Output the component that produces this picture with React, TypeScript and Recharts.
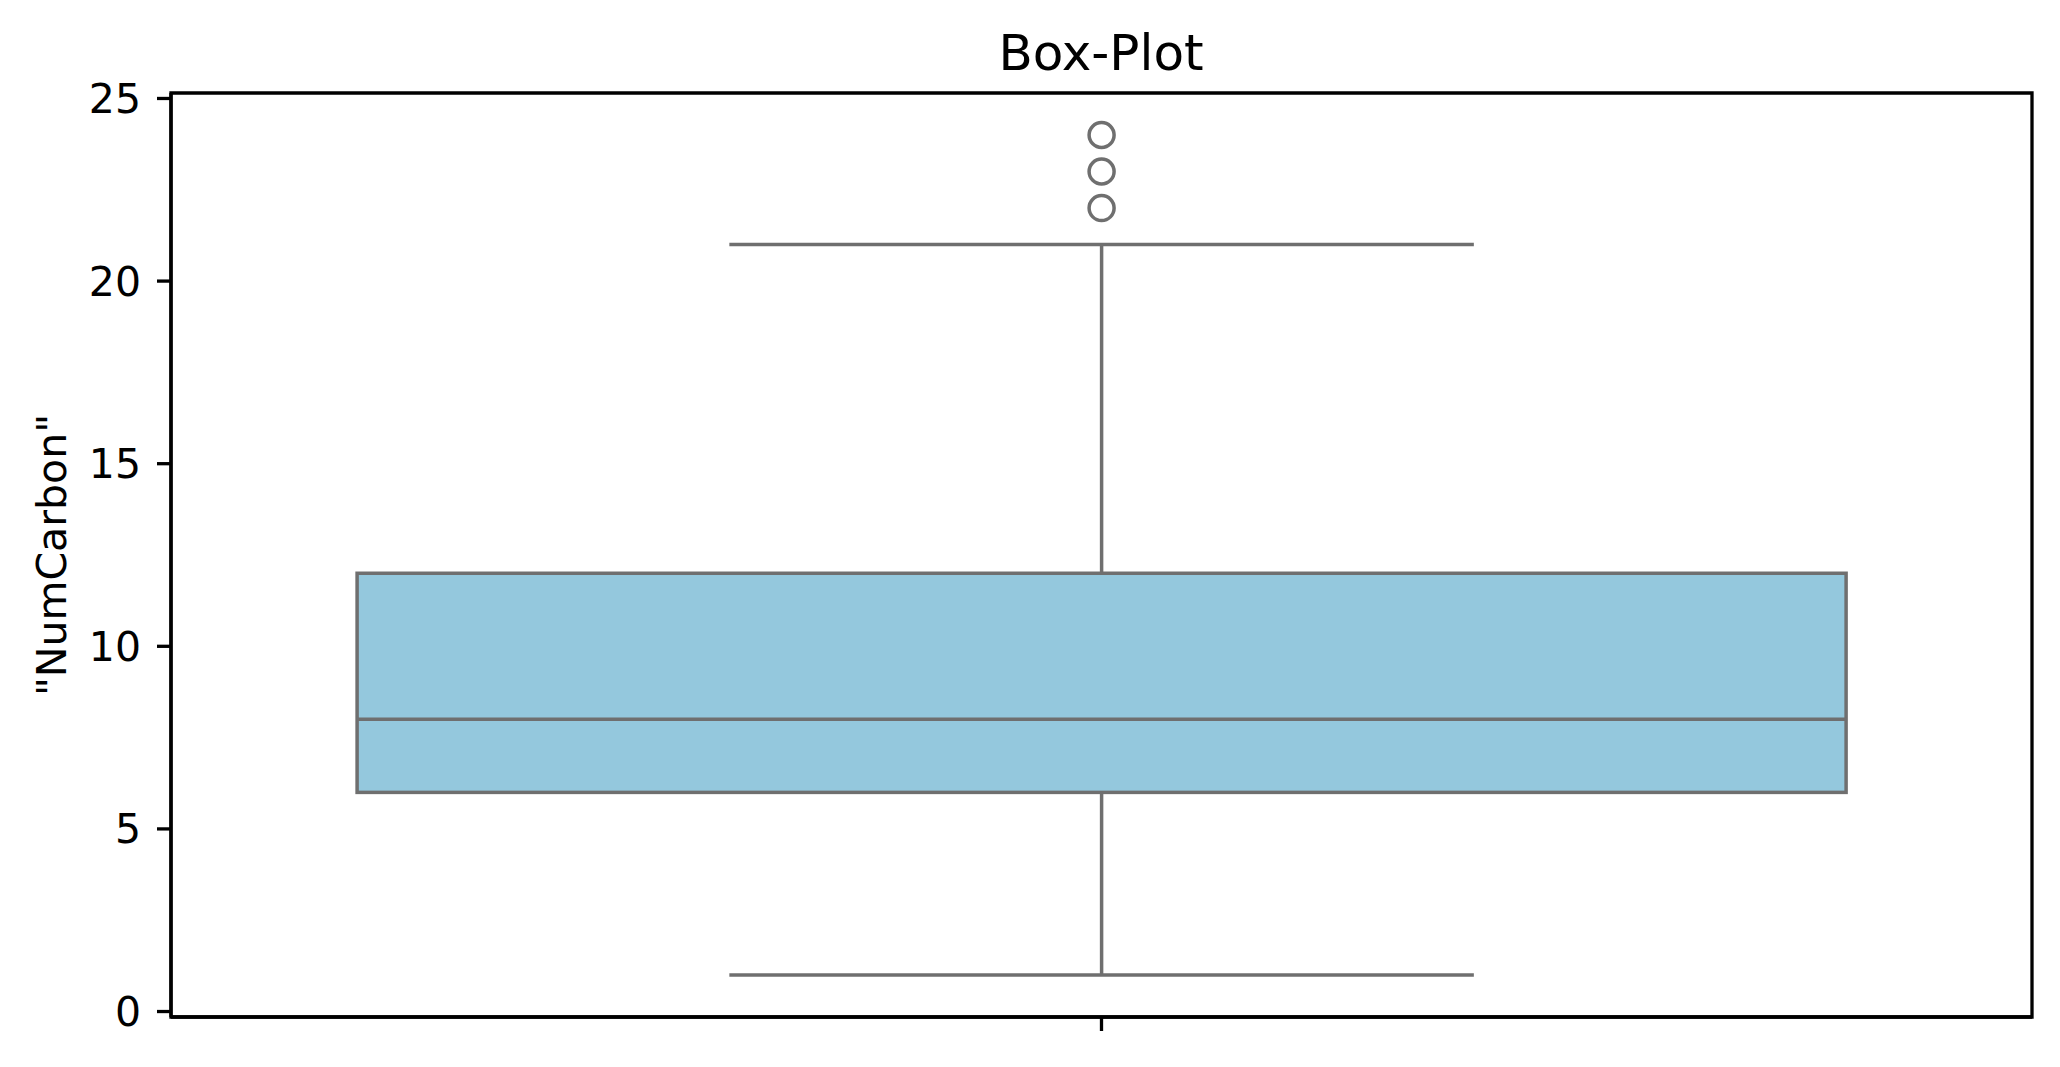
import React from 'react';
import { ComposedChart, Bar, XAxis, YAxis, ReferenceArea } from 'recharts';

// box-plot stats
const categories = ['NumCarbon'];
const whiskerLow = [1];
const q1Values = [6];
const medianValues = [8];
const q3Values = [12];
const whiskerHigh = [21];
const outlierValues = [[22, 23, 24]];
const yTicks = [0, 5, 10, 15, 20, 25];
const yDomain = [-0.15, 25.15];

const LINE = '#6f6f6f';
const FILL = '#94c8dd';
const FONT = '"DejaVu Sans", sans-serif';

const boxData = categories.map((name, i) => ({
  name,
  box: [q1Values[i], q3Values[i]],
  min: whiskerLow[i],
  q1: q1Values[i],
  median: medianValues[i],
  q3: q3Values[i],
  max: whiskerHigh[i],
  outliers: outlierValues[i],
}));

// draws box, median, whiskers, caps and fliers from the bar's own scaled rect
const BoxShape = (props: any) => {
  const { x, y, width, height, payload } = props;
  const top = Math.min(y, y + height);
  const h = Math.abs(height);
  const bottom = top + h;
  const ppu = h / (payload.q3 - payload.q1);
  const yOf = (v: number) => bottom - (v - payload.q1) * ppu;
  const cx = x + width / 2;
  const capHalf = width / 4;
  const sw = 3.5;
  return (
    <g>
      <line x1={cx} x2={cx} y1={yOf(payload.max)} y2={top} stroke={LINE} strokeWidth={sw} />
      <line x1={cx} x2={cx} y1={bottom} y2={yOf(payload.min)} stroke={LINE} strokeWidth={sw} />
      <rect x={x} y={top} width={width} height={h} fill={FILL} stroke={LINE} strokeWidth={sw} />
      <line x1={x} x2={x + width} y1={yOf(payload.median)} y2={yOf(payload.median)} stroke={LINE} strokeWidth={sw} />
      <line x1={cx - capHalf} x2={cx + capHalf} y1={yOf(payload.max)} y2={yOf(payload.max)} stroke={LINE} strokeWidth={sw} />
      <line x1={cx - capHalf} x2={cx + capHalf} y1={yOf(payload.min)} y2={yOf(payload.min)} stroke={LINE} strokeWidth={sw} />
      {payload.outliers.map((v: number) => (
        <circle key={v} cx={cx} cy={yOf(v)} r={12.5} fill="none" stroke={LINE} strokeWidth={sw} />
      ))}
    </g>
  );
};

const axisStyle = { stroke: '#000', strokeWidth: 3.3 };

// x tick keeps its tick mark but shows no label (as in the original)
const NoLabel = () => <g />;

export default function App() {
  return (
    <div style={{ position: 'absolute', left: 0, top: 0, width: 2060, height: 1067, background: '#fff' }}>
      <ComposedChart
        width={2060}
        height={1067}
        data={boxData}
        margin={{ top: 93, right: 28, left: 0, bottom: 0 }}
        barCategoryGap="10%"
      >
        <XAxis
          dataKey="name"
          type="category"
          height={50}
          tick={<NoLabel />}
          tickSize={14}
          tickLine={axisStyle}
          axisLine={axisStyle}
        />
        <YAxis
          type="number"
          domain={yDomain}
          ticks={yTicks}
          width={171}
          tickSize={14}
          tickMargin={16}
          tickLine={axisStyle}
          axisLine={axisStyle}
          tick={{ fill: '#000', fontSize: 41, fontFamily: FONT }}
        />
        <ReferenceArea
          y1={yDomain[0]}
          y2={yDomain[1]}
          fill="none"
          fillOpacity={0}
          stroke="#000"
          strokeWidth={3.3}
        />
        <Bar dataKey="box" shape={<BoxShape />} isAnimationActive={false} />
      </ComposedChart>
      <svg
        width={2060}
        height={1067}
        style={{ position: 'absolute', left: 0, top: 0, pointerEvents: 'none' }}
      >
        <text x={1101} y={70} textAnchor="middle" fontSize={50} fontFamily={FONT} fill="#000">
          Box-Plot
        </text>
        <text
          x={66}
          y={555}
          textAnchor="middle"
          fontSize={41}
          fontFamily={FONT}
          fill="#000"
          transform="rotate(-90 66 555)"
        >
          "NumCarbon"
        </text>
      </svg>
    </div>
  );
}
